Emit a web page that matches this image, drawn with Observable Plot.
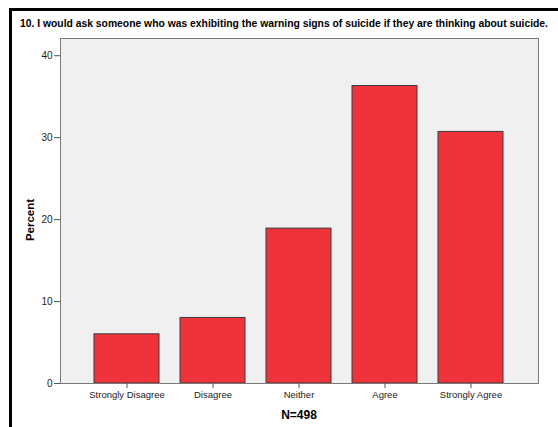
<!DOCTYPE html>
<html>
<head>
<meta charset="utf-8">
<script src="https://cdn.jsdelivr.net/npm/d3@7"></script>
<script src="https://cdn.jsdelivr.net/npm/@observablehq/plot@0.6"></script>
<style>
  html, body { margin: 0; padding: 0; background: #fff; }
  #wrap { position: relative; width: 558px; height: 427px; overflow: hidden; background: #fff; font-family: "Liberation Sans", Arial, sans-serif; }
  #border { position: absolute; left: 9px; top: 8px; width: 600px; height: 500px; border: 3px solid #000; box-sizing: border-box; }
  #title { position: absolute; left: 20px; top: 17px; font-size: 11px; font-weight: bold; color: #000; white-space: nowrap; transform-origin: 0 50%; }
  #chart { position: absolute; left: 0; top: 0; }
  #ylab { position: absolute; left: 30px; top: 220px; transform: translate(-50%, -50%) rotate(-90deg); font-size: 11.5px; font-weight: bold; }
  #xlab { position: absolute; left: 299px; top: 415px; transform: translate(-50%, -50%); font-size: 12px; font-weight: bold; }
</style>
</head>
<body>
<div id="wrap">
  <div id="border"></div>
  <div id="chart"></div>
  <div id="title">10. I would ask someone who was exhibiting the warning signs of suicide if they are thinking about suicide.</div>
  <div id="ylab">Percent</div>
  <div id="xlab">N=498</div>
</div>
<script>
const categories = ["Strongly Disagree", "Disagree", "Neither", "Agree", "Strongly Agree"];
const percents = [6.0, 8.0, 18.9, 36.3, 30.7];
const yTicks = [0, 10, 20, 30, 40];

const data = categories.map((c, i) => ({category: c, percent: percents[i]}));

const chart = Plot.plot({
  width: 558,
  height: 427,
  marginLeft: 60,
  marginRight: 20,
  marginTop: 38,
  marginBottom: 44,
  style: {background: "transparent", fontFamily: "Liberation Sans, Arial, sans-serif", fontSize: "10px", color: "#222"},
  x: {domain: categories, paddingInner: 0.244, paddingOuter: 0.395, label: null},
  y: {domain: [0, 42.1], label: null},
  marks: [
    Plot.frame({fill: "#f0f0f0", stroke: "none"}),
    Plot.barY(data, {x: "category", y: "percent", fill: "#f0323a", stroke: "#3a3a3a", strokeWidth: 1}),
    Plot.frame({stroke: "#7a7a7a", strokeWidth: 1}),
    Plot.axisY({ticks: yTicks, tickSize: 6, tickPadding: 2, stroke: "#555", fontSize: 10}),
    Plot.axisX({tickSize: 5, tickPadding: 3, stroke: "#555", fontSize: 9.5})
  ]
});
document.getElementById("chart").appendChild(chart);

const t = document.getElementById("title");
const w = t.getBoundingClientRect().width;
const target = 528;
if (w > 0) t.style.transform = `scaleX(${target / w})`;
</script>
</body>
</html>
